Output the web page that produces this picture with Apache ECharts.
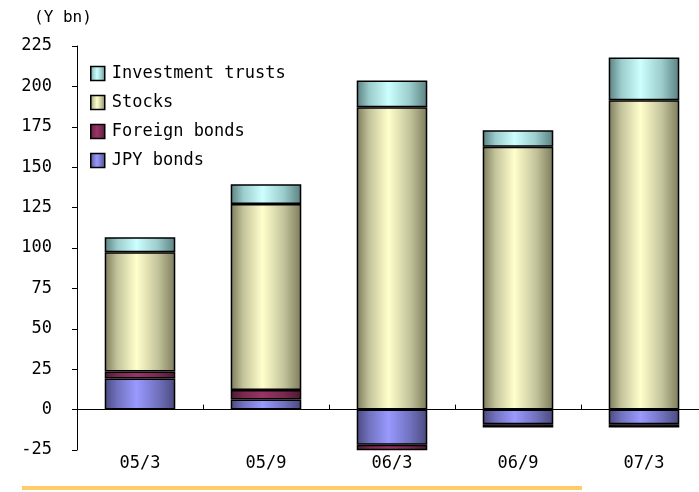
<!DOCTYPE html>
<html>
<head>
<meta charset="utf-8">
<script src="https://cdn.jsdelivr.net/npm/echarts@6/dist/echarts.min.js"></script>
<style>
  html, body { margin: 0; padding: 0; background: #fff; }
  #chart { width: 699px; height: 492px; }
</style>
</head>
<body>
<div id="chart"></div>
<script>
// Period labels (year/month)
const categories = ['05/3', '05/9', '06/3', '06/9', '07/3'];

// Net purchases by asset class, Y bn
const jpyBonds = [19.2, 6.3, -21.8, -9.0, -9.0];
const foreignBonds = [4.4, 5.8, -3.3, -2.0, -2.0];
const stocks = [73.8, 115.1, 187.1, 162.6, 191.4];
const investmentTrusts = [9.3, 12.2, 16.6, 10.2, 26.5];

const yTicks = { min: -25, max: 225, step: 25 };
const unitLabel = '(Y bn)';

const FONT = 'DejaVu Sans Mono';

// Horizontal shading gives each bar a rounded, column-like look
function shade(dark, mid, light) {
  return {
    type: 'linear', x: 0, y: 0, x2: 1, y2: 0,
    colorStops: [
      { offset: 0, color: dark },
      { offset: 0.18, color: mid },
      { offset: 0.45, color: light },
      { offset: 0.75, color: mid },
      { offset: 1, color: dark }
    ]
  };
}

const palette = {
  'JPY bonds': shade('#4a4a7e', '#7272c0', '#9999ff'),
  'Foreign bonds': shade('#4e1833', '#7a2950', '#993366'),
  'Stocks': shade('#7c7c5c', '#c4c49c', '#ffffcc'),
  'Investment trusts': shade('#5a8080', '#9ccccc', '#ccffff')
};

function bar(name, values) {
  return {
    name: name,
    type: 'bar',
    stack: 'total',
    stackStrategy: 'samesign',
    barWidth: '56%',
    data: values,
    itemStyle: { color: palette[name], borderColor: '#000', borderWidth: 1.5 },
    emphasis: { disabled: true }
  };
}

const chart = echarts.init(document.getElementById('chart'), null, { renderer: 'canvas' });

chart.setOption({
  animation: false,
  backgroundColor: '#fff',
  textStyle: { fontFamily: FONT, color: '#000' },
  title: {
    text: unitLabel,
    left: 34, top: 10, padding: 0,
    textStyle: { fontFamily: FONT, fontSize: 16, fontWeight: 'normal', color: '#000' }
  },
  legend: {
    orient: 'vertical',
    left: 90, top: 65, padding: 0,
    itemWidth: 14, itemHeight: 14, itemGap: 12,
    icon: 'rect',
    data: ['Investment trusts', 'Stocks', 'Foreign bonds', 'JPY bonds'],
    textStyle: { fontFamily: FONT, fontSize: 17, color: '#000', padding: [0, 0, 0, 2] },
    itemStyle: { borderColor: '#000', borderWidth: 1.5 }
  },
  grid: { left: 77, right: -8, top: 46, bottom: 42, containLabel: false, outerBoundsMode: 'none' },
  xAxis: {
    type: 'category',
    data: categories,
    axisLine: { onZero: true, lineStyle: { color: '#000', width: 1 } },
    axisTick: { show: true, inside: true, length: 5, alignWithLabel: false, lineStyle: { color: '#000' } },
    axisLabel: { margin: 5, fontFamily: FONT, fontSize: 17, color: '#000' },
    splitLine: { show: false }
  },
  yAxis: {
    type: 'value',
    min: yTicks.min, max: yTicks.max, interval: yTicks.step,
    axisLine: { show: true, lineStyle: { color: '#000', width: 1 } },
    axisTick: { show: true, length: 5, lineStyle: { color: '#000' } },
    axisLabel: { margin: 25, fontFamily: FONT, fontSize: 17, color: '#000' },
    splitLine: { show: false }
  },
  series: [
    bar('JPY bonds', jpyBonds),
    bar('Foreign bonds', foreignBonds),
    bar('Stocks', stocks),
    bar('Investment trusts', investmentTrusts)
  ],
  graphic: [{
    type: 'rect',
    shape: { x: 22, y: 486, width: 560, height: 4 },
    style: { fill: '#ffcc66' },
    silent: true
  }]
});
</script>
</body>
</html>
